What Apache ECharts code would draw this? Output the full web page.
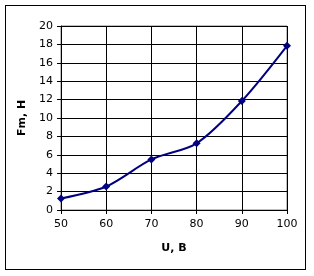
<!DOCTYPE html>
<html><head><meta charset="utf-8">
<script src="https://cdn.jsdelivr.net/npm/echarts@6/dist/echarts.min.js"></script>
<style>html,body{margin:0;padding:0;background:#fff}
#frame{position:absolute;left:5px;top:5px;width:301px;height:265px;border:1px solid #000;box-sizing:border-box}
#c{position:absolute;left:0;top:0;width:314px;height:276px}</style>
</head><body><div id="frame"></div><div id="c"></div>
<script>
const xValues = [50, 60, 70, 80, 90, 100];
const yValues = [1.25, 2.55, 5.5, 7.25, 11.85, 17.85];
const xTitle = 'U, B';
const yTitle = 'Fm, H';
const chart = echarts.init(document.getElementById('c'), null, {renderer:'canvas'});
const font = 'DejaVu Sans';
chart.setOption({
  animation:false,
  grid:{left:61, top:26, right:27, bottom:66, show:true, borderColor:'#808080', borderWidth:1},
  xAxis:{type:'value', min:50, max:100, interval:10,
    name:xTitle, nameLocation:'middle', nameGap:33,
    nameTextStyle:{fontFamily:font, fontSize:11, fontWeight:'bold', color:'#000'},
    axisLine:{show:true, onZero:false, lineStyle:{color:'#000', width:1}},
    axisTick:{show:true, inside:false, length:4, lineStyle:{color:'#000'}},
    axisLabel:{fontFamily:font, fontSize:11, color:'#000', margin:9},
    splitLine:{show:true, lineStyle:{color:'#000', width:1}}},
  yAxis:{type:'value', min:0, max:20, interval:2,
    name:yTitle, nameLocation:'middle', nameGap:28, nameRotate:90,
    nameTextStyle:{fontFamily:font, fontSize:11, fontWeight:'bold', color:'#000'},
    axisLine:{show:true, lineStyle:{color:'#000', width:1}},
    axisTick:{show:true, length:4, lineStyle:{color:'#000'}},
    axisLabel:{fontFamily:font, fontSize:11, color:'#000', margin:8},
    splitLine:{show:true, lineStyle:{color:'#000', width:1}}},
  series:[{type:'line', smooth:0.3,
    data:xValues.map((x,i)=>[x,yValues[i]]),
    lineStyle:{color:'#000080', width:2},
    itemStyle:{color:'#000080'},
    symbol:'diamond', symbolSize:8, showSymbol:true}]
});
</script></body></html>
